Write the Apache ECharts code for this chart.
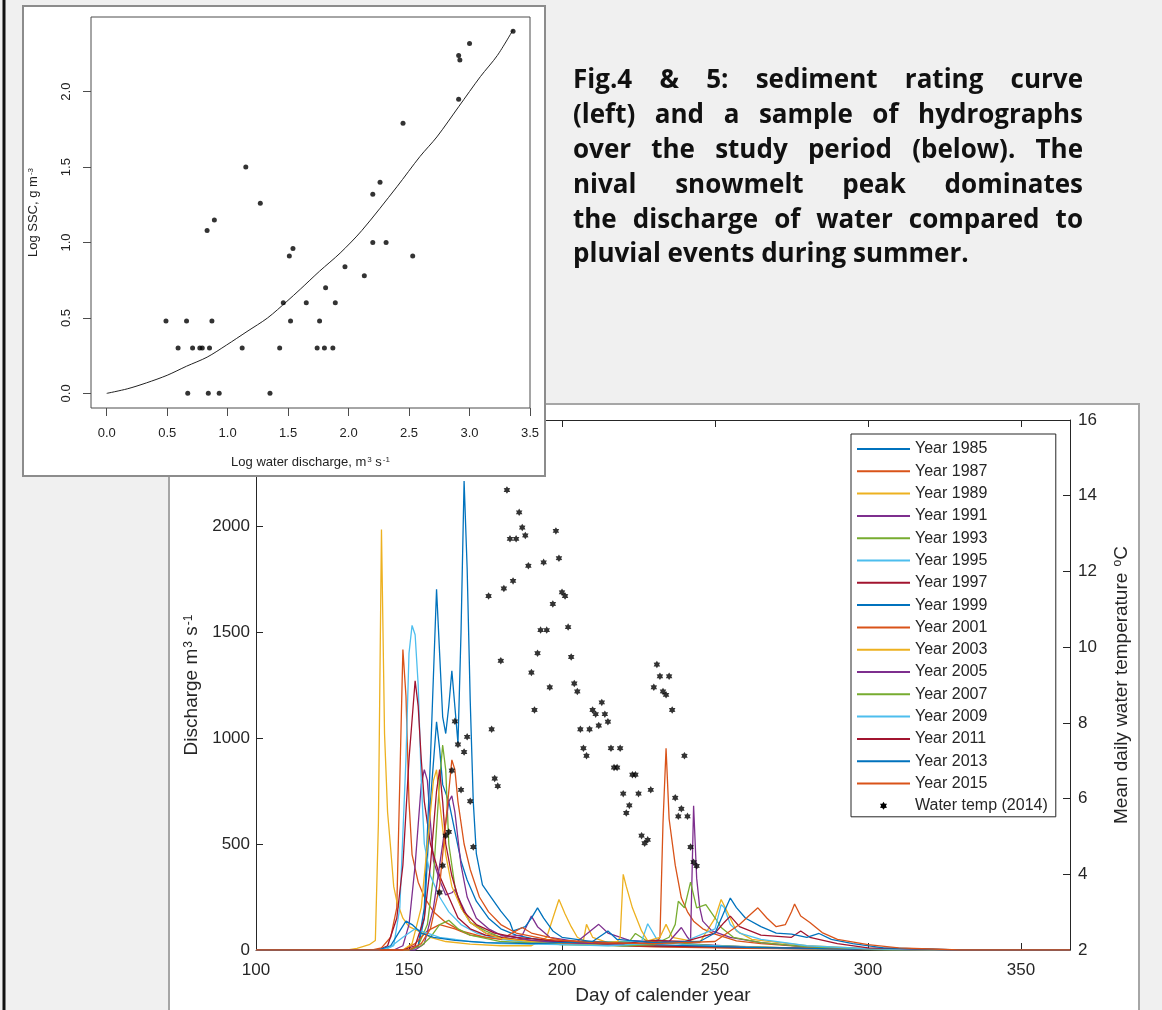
<!DOCTYPE html>
<html><head><meta charset="utf-8">
<script src="https://cdn.jsdelivr.net/npm/echarts@6/dist/echarts.min.js"></script>
<style>html,body{margin:0;padding:0;background:#f0f0f0;} #c{width:1162px;height:1010px;}</style>
</head><body><div id="c"></div><script>
// ---------------- Data ----------------
// Inset: sediment rating curve
const sscX = [0.49,0.66,0.87,0.59,0.71,0.77,0.79,0.85,1.12,1.43,0.67,0.84,0.93,1.35,0.83,0.89,1.15,1.27,1.46,1.51,1.54,1.52,1.65,1.81,1.89,1.76,1.74,1.80,1.87,1.97,2.13,2.20,2.31,2.53,2.20,2.26,2.45,2.91,2.91,2.92,3.00,3.36];
const sscY = [0.48,0.48,0.48,0.30,0.30,0.30,0.30,0.30,0.30,0.30,0.00,0.00,0.00,0.00,1.08,1.15,1.50,1.26,0.60,0.91,0.96,0.48,0.60,0.70,0.60,0.48,0.30,0.30,0.30,0.84,0.78,1.00,1.00,0.91,1.32,1.40,1.79,1.95,2.24,2.21,2.32,2.40];
const curveX = [0,0.17,0.33,0.5,0.66,0.83,0.99,1.16,1.33,1.49,1.6,1.76,1.93,2.11,2.4,2.59,2.73,2.91,3.09,3.23,3.36];
const curveY = [0,0.03,0.07,0.12,0.18,0.24,0.32,0.41,0.50,0.61,0.69,0.81,0.93,1.08,1.37,1.57,1.70,1.90,2.10,2.24,2.41];
const insetTicksX = [0,0.5,1,1.5,2,2.5,3,3.5];
const insetTicksY = [0,0.5,1,1.5,2];

// Main: hydrographs [day, discharge]
const q1985 = [[100,0],[150,0],[153,15],[155,150],[157,700],[159,1076],[160,950],[161,780],[163,700],[165,560],[167,420],[169,330],[172,230],[176,150],[180,100],[185,70],[190,55],[200,35],[220,20],[250,12],[280,6],[300,3],[320,0],[366,0]];
const q1987 = [[100,0],[138,0],[141,10],[144,60],[146,199],[147,800],[148,1417],[149,1200],[150,700],[151,450],[153,320],[155,250],[158,180],[162,130],[167,90],[175,60],[185,45],[200,30],[230,15],[260,8],[300,3],[330,0],[366,0]];
const q1989 = [[100,0],[130,0],[133,8],[137,25],[139,45],[140,600],[141,1984],[142,1021],[143,650],[144,480],[145,300],[146,230],[148,150],[150,110],[153,90],[157,60],[162,40],[170,28],[180,20],[190,20],[195,60],[197,150],[199,238],[201,170],[203,110],[205,60],[207,45],[208,121],[210,60],[215,35],[225,25],[250,15],[280,8],[300,3],[330,0],[366,0]];
const q1991 = [[100,0],[145,0],[148,20],[150,120],[152,400],[154,780],[155,851],[156,800],[157,600],[158,420],[160,330],[162,260],[164,270],[165,284],[167,220],[170,130],[175,80],[180,60],[187,70],[190,160],[192,110],[196,60],[205,40],[212,121],[215,80],[222,45],[240,30],[260,15],[290,5],[320,0],[366,0]];
const q1993 = [[100,0],[150,0],[153,20],[156,120],[158,350],[160,800],[161,967],[162,850],[163,500],[165,300],[167,200],[170,130],[175,90],[180,60],[190,40],[200,30],[222,40],[224,78],[228,40],[250,20],[280,8],[310,0],[366,0]];
const q1995 = [[100,0],[142,0],[145,20],[147,200],[149,900],[150,1400],[151,1531],[152,1487],[153,1250],[154,800],[155,500],[157,350],[160,250],[163,180],[167,120],[172,80],[180,50],[190,35],[200,25],[226,40],[228,124],[231,50],[240,25],[270,10],[300,3],[330,0],[366,0]];
const q1997 = [[100,0],[140,0],[143,20],[146,150],[148,400],[150,900],[152,1270],[153,1150],[154,900],[155,700],[157,500],[160,350],[163,250],[166,152],[170,100],[175,70],[185,50],[200,35],[225,20],[260,12],[300,4],[330,0],[366,0]];
const q1999 = [[100,0],[150,0],[153,20],[155,200],[157,900],[159,1702],[160,1400],[161,1100],[162,1021],[163,1150],[164,1317],[165,1146],[166,975],[167,1500],[168,2212],[169,1800],[170,1178],[171,700],[172,455],[174,307],[177,245],[180,183],[183,130],[184,90],[186,100],[188,110],[190,150],[192,199],[194,150],[197,90],[200,60],[210,40],[230,25],[260,12],[300,4],[330,0],[366,0]];
const q2001 = [[100,0],[148,0],[152,30],[156,90],[160,120],[165,100],[170,70],[180,50],[187,106],[190,80],[200,45],[215,35],[225,30],[231,40],[232,59],[233,600],[234,951],[235,618],[237,400],[239,245],[241,180],[243,136],[246,100],[250,75],[257,43],[265,30],[280,15],[300,5],[330,0],[366,0]];
const q2003 = [[100,0],[148,0],[151,30],[154,200],[156,500],[158,800],[159,850],[160,700],[162,450],[164,300],[167,200],[170,130],[175,80],[180,55],[190,40],[200,30],[210,25],[218,40],[219,59],[220,357],[221,300],[223,199],[226,90],[228,43],[232,60],[234,121],[236,60],[245,35],[250,150],[252,238],[254,180],[257,90],[262,50],[280,20],[300,6],[330,0],[366,0]];
const q2005 = [[100,0],[152,0],[155,30],[158,200],[161,500],[163,700],[164,727],[165,650],[167,400],[169,250],[172,150],[176,100],[180,70],[190,45],[200,35],[220,25],[235,40],[239,106],[241,60],[242,43],[243,680],[244,339],[245,200],[246,136],[249,90],[255,60],[265,35],[280,15],[300,5],[330,0],[366,0]];
const q2007 = [[100,0],[150,0],[154,20],[157,60],[160,120],[163,140],[166,100],[170,70],[180,40],[200,25],[220,20],[230,25],[235,60],[237,121],[238,230],[240,199],[242,320],[244,199],[247,214],[250,152],[252,106],[256,60],[265,35],[280,15],[300,5],[330,0],[366,0]];
const q2009 = [[100,0],[140,0],[144,15],[148,60],[152,100],[156,80],[160,60],[165,50],[170,40],[180,30],[200,25],[215,20],[228,30],[240,40],[250,100],[252,214],[253,200],[255,120],[258,80],[265,50],[280,20],[300,6],[330,0],[366,0]];
const q2011 = [[100,0],[148,0],[152,20],[155,150],[157,400],[159,750],[160,851],[161,700],[162,500],[164,350],[166,250],[168,180],[172,120],[178,80],[185,60],[200,40],[220,30],[230,45],[240,40],[250,80],[253,130],[255,160],[258,110],[265,70],[275,60],[278,90],[281,60],[290,30],[300,10],[330,0],[366,0]];
const q2013 = [[100,0],[140,0],[144,20],[147,90],[149,136],[151,120],[154,80],[158,60],[165,45],[175,35],[190,30],[210,40],[215,90],[218,50],[230,35],[245,40],[250,80],[253,180],[255,245],[257,200],[260,150],[265,110],[270,80],[275,75],[280,60],[284,78],[288,50],[295,30],[305,10],[330,0],[366,0]];
const q2015 = [[100,0],[150,0],[154,30],[157,100],[160,300],[162,600],[164,897],[165,850],[166,700],[168,500],[170,380],[173,250],[176,180],[180,120],[185,80],[195,50],[210,35],[230,30],[250,40],[258,120],[261,160],[264,199],[267,150],[270,110],[273,120],[275,180],[276,217],[278,160],[281,130],[285,82],[290,50],[300,25],[310,10],[330,0],[366,0]];
const yearNames = ['Year 1985','Year 1987','Year 1989','Year 1991','Year 1993','Year 1995','Year 1997','Year 1999','Year 2001','Year 2003','Year 2005','Year 2007','Year 2009','Year 2011','Year 2013','Year 2015'];
const yearSeries = [q1985,q1987,q1989,q1991,q1993,q1995,q1997,q1999,q2001,q2003,q2005,q2007,q2009,q2011,q2013,q2015];

// Water temperature 2014 [day], [deg C]
const tempDays = [160,161,162,163,164,165,166,167,168,169,170,171,176,177,178,179,180,181,182,183,184,185,186,187,188,189,190,191,192,193,194,195,196,197,198,199,200,201,202,203,204,205,206,207,208,209,210,211,212,213,214,215,216,217,218,219,220,221,222,223,224,225,226,227,228,229,230,231,232,233,234,235,236,237,238,239,240,241,242,243,244];
const tempVals = [3.52,4.23,5.02,5.12,6.74,8.04,7.43,6.23,7.23,7.63,5.93,4.72,11.35,7.83,6.53,6.33,9.64,11.55,14.15,12.86,11.75,12.86,13.56,13.16,12.95,12.15,9.33,8.34,9.84,10.45,12.24,10.45,8.94,11.14,13.07,12.35,11.45,11.35,10.53,9.74,9.04,8.83,7.83,7.33,7.13,7.83,8.34,8.23,7.93,8.54,8.23,8.03,7.33,6.82,6.82,7.33,6.13,5.62,5.82,6.63,6.63,6.13,5.02,4.82,4.91,6.23,8.94,9.54,9.23,8.83,8.74,9.23,8.34,6.02,5.53,5.73,7.13,5.53,4.72,4.32,4.22];

const dayTicks = [100,150,200,250,300,350];

const textLines = ["Fig.4 & 5: sediment rating curve","(left) and a sample of hydrographs","over the study period (below). The","nival snowmelt peak dominates","the discharge of water compared to","pluvial events during summer."];

// ---------------- Styling ----------------
const palette = ['#0072BD','#D95319','#EDB120','#7E2F8E','#77AC30','#4DBEEE','#A2142F'];
const AX = '#262626';
const FONT = '"Liberation Sans", Arial, sans-serif';

function starPath(){
  let p='';
  for(let k=0;k<12;k++){
    const a=(-90+k*30)*Math.PI/180, r=(k%2)?6:10;
    p+=(k?'L':'M')+(10+r*Math.cos(a)).toFixed(2)+' '+(10+r*Math.sin(a)).toFixed(2)+' ';
  }
  return 'path://'+p+'Z';
}
const STAR = starPath();

// Justified text block
const TX0 = 573, TX1 = 1083, TY0 = 81, TSTEP = 34.8;
const TFONT = 'bold 26px "Open Sans", sans-serif';
const cv = document.createElement('canvas').getContext('2d');
cv.font = TFONT;
const textEls = [];
textLines.forEach((line, i) => {
  const words = line.split(' ');
  const y = TY0 + i*TSTEP;
  if (i === textLines.length-1) {
    textEls.push({type:'text', x:TX0, y:y, z:30, style:{text:line, font:TFONT, fill:'#111', align:'left', verticalAlign:'middle'}});
    return;
  }
  const widths = words.map(w => cv.measureText(w).width);
  const total = widths.reduce((a,b)=>a+b,0);
  const gap = (TX1 - TX0 - total)/(words.length-1);
  let x = TX0;
  words.forEach((w, j) => {
    textEls.push({type:'text', x:x, y:y, z:30, style:{text:w, font:TFONT, fill:'#111', align:'left', verticalAlign:'middle'}});
    x += widths[j] + gap;
  });
});

const chart = echarts.init(document.getElementById('c'), null, {renderer:'canvas'});

const series = yearSeries.map((d, i) => ({
  name: yearNames[i], type:'line', xAxisIndex:0, yAxisIndex:0,
  data: d, symbol:'none', smooth:false, animation:false,
  lineStyle:{width:1.3, color: palette[i%7]}, itemStyle:{color: palette[i%7]}, z:2
}));
series.push({
  name:'Water temp (2014)', type:'scatter', xAxisIndex:0, yAxisIndex:1,
  data: tempDays.map((d,i)=>[d,tempVals[i]]),
  symbol: STAR, symbolSize: 7.5, symbolKeepAspect:true,
  itemStyle:{color:'#000'}, z:3, animation:false
});
series.push({
  name:'ssc', type:'scatter', xAxisIndex:2, yAxisIndex:2,
  data: sscX.map((x,i)=>[x,sscY[i]]), symbol:'circle', symbolSize:5,
  itemStyle:{color:'#000'}, z:26, animation:false
});
series.push({
  name:'fit', type:'line', xAxisIndex:2, yAxisIndex:2,
  data: curveX.map((x,i)=>[x,curveY[i]]), symbol:'none', smooth:0.3,
  lineStyle:{width:1, color:'#222'}, z:25, animation:false
});

const supRich = (fs) => ({ sup:{fontSize: Math.round(fs*0.62), verticalAlign:'top', lineHeight: fs, fontFamily: FONT, color: AX, padding:[0,0,0,1]} });
const plain = (v) => String(v);

const option = {
  backgroundColor:'#f0f0f0',
  animation:false,
  textStyle:{fontFamily: FONT},
  graphic:{elements:[
    {type:'rect', shape:{x:169, y:404, width:970, height:640}, style:{fill:'#fff', stroke:'#a6a6a6', lineWidth:2}, z:-1},
    {type:'rect', shape:{x:2.5, y:0, width:3, height:1010}, style:{fill:'#111'}, z:1},
    {type:'rect', shape:{x:23, y:6, width:522, height:470}, style:{fill:'#fff', stroke:'#8c8c8c', lineWidth:2}, z:10},
    ...textEls
  ]},
  legend:{
    orient:'vertical', left:851, top:434, padding:[7,8,3,5],
    itemWidth:53, itemHeight:8, itemGap:6.3,
    backgroundColor:'#fff', borderColor:AX, borderWidth:1, borderRadius:0,
    selectedMode:false, z:6,
    itemStyle:{opacity:0},
    textStyle:{fontSize:16, lineHeight:16, color:AX, fontFamily:FONT},
    data:[...yearNames, {name:'Water temp (2014)', itemStyle:{opacity:1}}]
  },
  grid:[
    {left:256, right:92, top:420, bottom:54, show:false},
    {left:91, top:17, width:439, height:391, show:true, borderColor:'#4d4d4d', borderWidth:1, backgroundColor:'transparent', z:20}
  ],
  xAxis:[
    {gridIndex:0, type:'value', position:'bottom', min:100, max:366,
     axisLine:{show:true, onZero:false, lineStyle:{color:AX, width:1}},
     axisTick:{show:true, inside:true, length:7, customValues:dayTicks, lineStyle:{color:AX}},
     axisLabel:{customValues:dayTicks, formatter:plain, fontSize:17, color:AX, margin:12, fontFamily:FONT},
     splitLine:{show:false},
     name:'Day of calender year', nameLocation:'middle', nameGap:36,
     nameTextStyle:{fontSize:19, color:AX, fontFamily:FONT}},
    {gridIndex:0, type:'value', position:'top', min:100, max:366,
     axisLine:{show:true, onZero:false, lineStyle:{color:AX, width:1}},
     axisTick:{show:true, inside:true, length:7, customValues:dayTicks, lineStyle:{color:AX}},
     axisLabel:{show:false}, splitLine:{show:false}},
    {gridIndex:1, type:'value', min:-0.13, max:3.5, z:25,
     axisLine:{show:false, onZero:false},
     axisTick:{show:true, inside:false, length:8, customValues:insetTicksX, lineStyle:{color:'#4d4d4d'}},
     axisLabel:{customValues:insetTicksX, formatter:(v)=>v.toFixed(1), fontSize:13, color:'#222', margin:19, fontFamily:FONT},
     splitLine:{show:false},
     name:'Log water discharge, m{sup|3} s{sup|-1}', nameLocation:'middle', nameGap:48,
     nameTextStyle:{fontSize:13, color:'#222', fontFamily:FONT, lineHeight:13, rich:supRich(13)}}
  ],
  yAxis:[
    {gridIndex:0, type:'value', position:'left', min:0, max:2500, interval:500,
     axisLine:{show:true, onZero:false, lineStyle:{color:AX, width:1}},
     axisTick:{show:true, inside:true, length:7, lineStyle:{color:AX}},
     axisLabel:{formatter:plain, fontSize:17, color:AX, margin:6, fontFamily:FONT},
     splitLine:{show:false},
     name:'Discharge m{sup|3} s{sup|-1}', nameLocation:'middle', nameGap:50, nameRotate:90,
     nameTextStyle:{fontSize:19, color:AX, fontFamily:FONT, lineHeight:19, rich:supRich(19)}},
    {gridIndex:0, type:'value', position:'right', min:2, max:16, interval:2,
     axisLine:{show:true, onZero:false, lineStyle:{color:AX, width:1}},
     axisTick:{show:true, inside:true, length:7, lineStyle:{color:AX}},
     axisLabel:{formatter:plain, fontSize:17, color:AX, margin:8, fontFamily:FONT},
     splitLine:{show:false},
     name:'Mean daily water temperature {sup|o}C', nameLocation:'middle', nameGap:42, nameRotate:90,
     nameTextStyle:{fontSize:19, color:AX, fontFamily:FONT, lineHeight:19, rich:supRich(19)}},
    {gridIndex:1, type:'value', min:-0.097, max:2.495, z:25,
     axisLine:{show:false, onZero:false},
     axisTick:{show:true, inside:false, length:8, customValues:insetTicksY, lineStyle:{color:'#4d4d4d'}},
     axisLabel:{customValues:insetTicksY, formatter:(v)=>v.toFixed(1), rotate:90, fontSize:13, color:'#222', margin:18, fontFamily:FONT},
     splitLine:{show:false},
     name:'Log SSC, g m{sup|-3}', nameLocation:'middle', nameGap:51, nameRotate:90,
     nameTextStyle:{fontSize:13, color:'#222', fontFamily:FONT, lineHeight:13, rich:supRich(13)}}
  ],
  series: series
};
chart.setOption(option);
</script></body></html>
